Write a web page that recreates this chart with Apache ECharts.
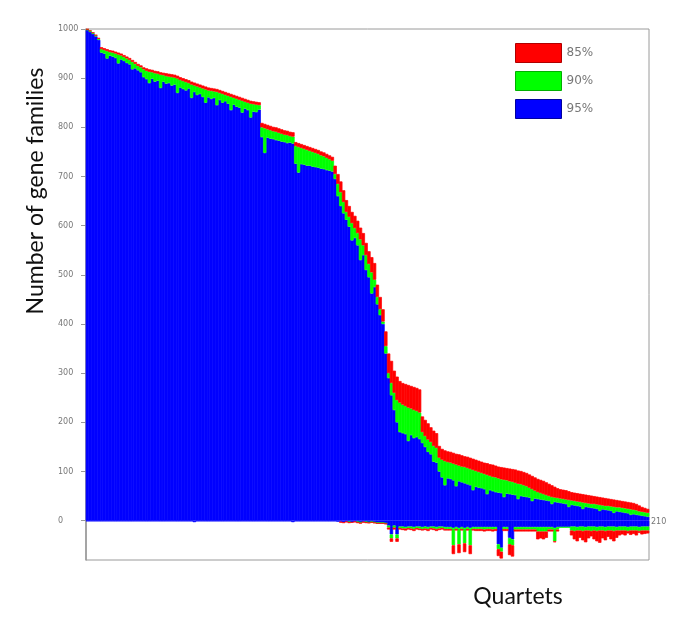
<!DOCTYPE html>
<html><head><meta charset="utf-8">
<script src="https://cdn.jsdelivr.net/npm/echarts@6/dist/echarts.min.js"></script>
<style>html,body{margin:0;padding:0;background:#fff}#c{width:685px;height:622px}</style>
</head><body><div id="c"></div>
<script>
// quartet index categories
const quartets = [];
for (let i = 1; i <= 200; i++) quartets.push(String(i));

// y-axis tick labels
const yTicks = [0, 100, 200, 300, 400, 500, 600, 700, 800, 900, 1000];

// legend labels
const legendNames = ['85%', '90%', '95%'];

// number of gene families (top of bar) at 95%
const top95 = [
998,994,990,985,978,952,950,940,946,944,
941,930,938,935,931,928,918,920,916,912,
902,898,890,899,893,895,880,893,889,890,
885,887,870,881,878,875,879,860,872,866,
868,862,850,861,858,860,845,856,850,853,
848,835,846,842,840,830,838,835,820,832,
831,836,780,748,779,777,776,774,773,771,
770,768,769,767,726,708,725,724,722,722,
720,719,718,716,715,713,712,710,695,660,
640,625,612,598,570,575,560,530,540,510,
495,462,475,440,418,400,340,290,255,225,
200,180,178,176,162,174,168,170,166,158,
150,140,135,120,118,100,88,72,86,85,
82,70,80,78,76,74,72,62,69,67,
66,64,54,62,60,58,57,56,48,55,
54,53,52,44,50,49,48,47,40,45,
44,43,42,41,40,34,38,37,36,35,
34,28,32,31,30,29,24,28,27,26,
25,24,20,23,22,21,20,16,19,18,
17,16,15,12,13,12,11,10,9,8];

// at 90%
const top90 = [
999,996,992,987,980,959,957,955,953,952,
950,948,946,943,940,937,933,929,925,922,
918,915,913,912,910,909,907,906,904,903,
902,901,899,896,894,892,890,887,885,883,
881,879,877,875,874,873,872,870,868,866,
864,862,860,858,856,854,852,850,848,847,
846,845,800,798,796,794,792,791,789,787,
785,784,782,781,762,760,758,756,754,752,
750,748,746,743,741,738,735,732,705,685,
668,648,628,618,605,595,585,572,560,540,
522,505,490,455,430,405,355,300,280,260,
245,240,236,233,230,228,225,223,220,180,
172,165,160,152,148,128,124,121,119,118,
116,114,112,110,109,107,105,103,101,99,
97,95,93,91,89,88,86,84,83,82,
80,79,77,75,74,72,70,67,64,61,
58,56,54,52,50,48,47,46,45,44,
43,42,41,40,39,38,37,36,35,34,
34,33,32,31,30,30,29,28,27,27,
26,25,24,23,22,21,19,18,17,16];

// at 85%
const top85 = [
1000,997,993,988,982,963,961,959,957,956,
954,952,950,947,944,941,937,933,929,926,
922,920,918,917,915,914,912,911,910,909,
908,907,905,902,900,898,896,893,891,889,
887,885,883,881,880,879,878,876,874,872,
870,868,866,864,862,860,858,856,854,853,
852,851,809,807,805,803,801,800,798,796,
794,793,791,790,770,768,766,764,762,760,
758,756,754,751,749,746,743,740,722,705,
690,672,652,640,628,620,610,596,585,565,
548,536,524,480,455,430,385,340,325,305,
293,284,280,278,276,274,272,270,267,212,
205,198,190,183,178,152,146,143,141,140,
138,136,135,133,131,130,128,126,124,122,
120,118,117,115,114,112,110,109,108,107,
106,105,104,102,101,99,97,94,91,88,
85,83,81,78,75,72,69,66,64,63,
62,60,58,57,56,55,54,53,52,51,
50,49,48,47,46,45,44,43,42,41,
40,39,38,37,36,34,31,28,26,24];

// depth below zero at 95%
const low95 = [
1,1,1,1,1,1,1,1,1,1,
1,1,1,1,1,1,1,1,1,1,
1,1,1,1,1,1,1,1,1,1,
1,1,1,1,1,1,1,1,3,1,
1,1,1,1,1,1,1,1,1,1,
1,1,1,1,1,1,1,1,1,1,
1,1,1,1,1,1,1,1,1,1,
1,1,1,3,1,1,1,1,1,1,
1,1,1,1,1,1,1,1,1,2,
2,3,2,2,3,2,2,3,2,2,
3,2,3,4,4,4,5,10,28,10,
28,12,12,13,12,12,13,12,12,13,
12,13,12,12,13,12,12,13,13,13,
15,13,15,13,15,13,15,13,13,13,
13,13,13,13,13,13,48,55,13,13,
35,38,13,13,13,13,13,13,13,13,
13,13,13,13,13,13,15,13,13,13,
13,13,12,12,13,12,12,13,12,12,
12,13,12,12,13,12,12,12,13,12,
12,12,13,12,12,12,13,12,12,12];

// at 90%
const low90 = [
1,1,1,1,1,1,1,1,1,1,
1,1,1,1,1,1,1,1,1,1,
1,1,1,1,1,1,1,1,1,1,
1,1,1,1,1,1,1,1,3,1,
1,1,1,1,1,1,1,1,1,1,
1,1,1,1,1,1,1,1,1,1,
1,1,1,1,1,1,1,1,1,1,
1,1,1,3,1,1,1,1,1,1,
1,1,1,1,1,1,1,1,1,2,
2,3,2,3,3,2,3,4,2,3,
4,3,4,5,5,5,6,14,36,14,
36,15,16,16,15,16,17,15,16,17,
16,17,15,16,17,16,15,17,17,17,
50,17,48,17,46,17,50,17,17,17,
17,18,17,17,18,17,58,63,17,17,
48,50,18,18,18,18,18,18,18,18,
22,22,22,22,18,18,42,18,14,14,
14,14,20,21,20,20,21,20,20,21,
20,21,20,20,21,20,20,21,20,20,
20,20,21,20,20,20,21,20,20,20];

// at 85%
const low85 = [
1,1,1,1,1,1,1,1,1,1,
1,1,1,1,1,1,1,1,1,1,
1,1,1,1,1,1,1,1,1,1,
1,1,1,1,1,1,1,1,3,1,
1,1,1,1,1,1,1,1,1,1,
1,1,1,1,1,1,1,1,1,1,
1,1,1,1,1,1,1,1,1,1,
1,1,1,3,1,1,1,1,1,1,
1,1,1,1,1,1,1,1,1,2,
4,5,3,5,4,3,5,6,4,5,
5,4,5,6,6,6,7,18,43,18,
43,18,19,20,18,19,21,18,19,20,
19,21,18,19,21,19,18,20,20,20,
68,20,66,20,64,20,68,20,21,21,
21,22,21,21,22,21,72,77,21,21,
70,73,22,22,22,22,22,22,22,22,
38,36,38,35,22,22,44,22,14,14,
14,14,30,38,42,35,40,44,36,32,
38,42,45,36,40,33,38,42,35,30,
28,30,26,29,27,30,25,28,27,26];

const RED = '#ff0000', GREEN = '#00ff00', BLUE = '#0000ff';
const FONT = 'Lato';

// stacked segment heights; empty segments are left out so they draw nothing
function diff(a, b) { return a.map((v, i) => (v - b[i]) === 0 ? '-' : v - b[i]); }
function neg(a) { return a.map(v => v === '-' ? '-' : -v); }

const chart = echarts.init(document.getElementById('c'), null, {renderer: 'canvas'});

function bar(name, data, color) {
  return {
    name: name, type: 'bar', stack: 'all', data: data,
    barWidth: 3.4,
    itemStyle: {color: color, borderColor: color, borderWidth: 0.7},
    emphasis: {disabled: true},
    animation: false
  };
}

chart.setOption({
  animation: false,
  grid: {left: 86, right: 36, top: 29, bottom: 62, show: true,
         borderColor: '#9a9a9a', borderWidth: 1, backgroundColor: '#fff'},
  legend: {
    orient: 'vertical', left: 515, top: 43, padding: 0, icon: 'rect',
    itemWidth: 46, itemHeight: 19, itemGap: 8,
    textStyle: {color: '#777', fontSize: 12, fontFamily: 'DejaVu Sans'},
    data: [
      {name: legendNames[0], itemStyle: {borderColor: '#b00000', borderWidth: 1}},
      {name: legendNames[1], itemStyle: {borderColor: '#00b000', borderWidth: 1}},
      {name: legendNames[2], itemStyle: {borderColor: '#0000a0', borderWidth: 1}}
    ]
  },
  xAxis: {
    type: 'category', data: quartets, boundaryGap: true,
    axisLine: {show: false}, axisTick: {show: false}, axisLabel: {show: false},
    splitLine: {show: false}
  },
  yAxis: {
    type: 'value', min: -80, max: 1000,
    axisLine: {show: true, lineStyle: {color: '#999', width: 1.5}},
    axisTick: {show: true, length: 5, lineStyle: {color: '#999'}, customValues: yTicks},
    axisLabel: {customValues: yTicks, color: '#777', fontSize: 8, margin: 28, align: 'left',
                fontFamily: 'DejaVu Sans', formatter: v => String(v)},
    splitLine: {show: false}
  },
  series: [
    bar(legendNames[2], top95, BLUE),
    bar(legendNames[1], diff(top90, top95), GREEN),
    bar(legendNames[0], diff(top85, top90), RED),
    bar(legendNames[2], neg(low95), BLUE),
    bar(legendNames[1], neg(diff(low90, low95)), GREEN),
    bar(legendNames[0], neg(diff(low85, low90)), RED)
  ],
  graphic: [
    {type: 'text', x: 36, y: 191, rotation: Math.PI / 2,
     style: {text: 'Number of gene families', font: '23px ' + FONT, fill: '#111',
             align: 'center', verticalAlign: 'middle'}},
    {type: 'text', x: 518, y: 597,
     style: {text: 'Quartets', font: '23px ' + FONT, fill: '#111',
             align: 'center', verticalAlign: 'middle'}},
    {type: 'text', x: 651, y: 522,
     style: {text: '210', font: '8px DejaVu Sans', fill: '#777',
             align: 'left', verticalAlign: 'middle'}}
  ]
});
</script>
</body></html>
